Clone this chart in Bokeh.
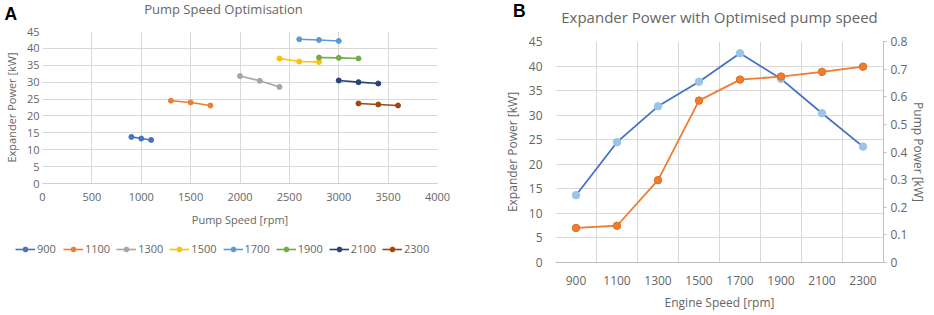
from bokeh.plotting import figure
from bokeh.models import (Range1d, FactorRange, LinearAxis, SingleIntervalTicker,
                          FixedTicker, Label, Legend, LegendItem, CustomJSTickFormatter)
from bokeh.layouts import row, column
from bokeh.embed import file_html
from bokeh.resources import INLINE

# ---------------- data: panel A (pump speed optimisation) ----------------
series_names = ["900", "1100", "1300", "1500", "1700", "1900", "2100", "2300"]
pump_900 = [900, 1000, 1100]
power_900 = [13.8, 13.3, 12.9]
pump_1100 = [1300, 1500, 1700]
power_1100 = [24.5, 24.0, 23.1]
pump_1300 = [2000, 2200, 2400]
power_1300 = [31.8, 30.4, 28.6]
pump_1500 = [2400, 2600, 2800]
power_1500 = [37.0, 36.1, 36.0]
pump_1700 = [2600, 2800, 3000]
power_1700 = [42.7, 42.5, 42.2]
pump_1900 = [2800, 3000, 3200]
power_1900 = [37.3, 37.2, 37.0]
pump_2100 = [3000, 3200, 3400]
power_2100 = [30.5, 30.0, 29.6]
pump_2300 = [3200, 3400, 3600]
power_2300 = [23.7, 23.4, 23.1]

# ---------------- data: panel B ----------------
engine_speeds = ["900", "1100", "1300", "1500", "1700", "1900", "2100", "2300"]
expander_power = [13.7, 24.5, 31.8, 36.8, 42.6, 37.4, 30.4, 23.6]
pump_power = [0.125, 0.133, 0.298, 0.586, 0.662, 0.673, 0.690, 0.709]

series_x = [pump_900, pump_1100, pump_1300, pump_1500, pump_1700, pump_1900, pump_2100, pump_2300]
series_y = [power_900, power_1100, power_1300, power_1500, power_1700, power_1900, power_2100, power_2300]
series_colors = ["#4472C4", "#ED7D31", "#A5A5A5", "#FFC000", "#5B9BD5", "#70AD47", "#264478", "#9E480E"]

FONT = "Open Sans"
TXT = "#666666"
GRID = "#D9D9D9"
AXIS = "#BFBFBF"


def style_axis(ax, size):
    ax.major_label_text_font = FONT
    ax.major_label_text_font_size = size
    ax.major_label_text_color = TXT
    ax.axis_label_text_font = FONT
    ax.axis_label_text_font_size = size
    ax.axis_label_text_color = TXT
    ax.axis_label_text_font_style = "normal"
    ax.major_tick_line_color = None
    ax.minor_tick_line_color = None
    ax.major_tick_out = 0
    ax.major_tick_in = 0


def bare(fig):
    fig.outline_line_color = None
    fig.background_fill_color = "white"
    fig.border_fill_color = "white"
    fig.frame_align = False


def strip(w, h):
    f = figure(width=w, height=h, x_range=Range1d(0, 1), y_range=Range1d(0, 1),
               x_axis_type=None, y_axis_type=None, min_border=0,
               output_backend="svg", toolbar_location=None, title=None)
    bare(f)
    return f


# ================= header of panel A =================
headA = strip(470, 23)
headA.add_layout(Label(x=4, y=9.8, x_units="screen", y_units="screen", text="A",
                       text_font="Liberation Sans", text_font_style="bold",
                       text_font_size="17.5px", text_color="black", text_baseline="alphabetic"))
headA.add_layout(Label(x=223, y=14.8, x_units="screen", y_units="screen",
                       text="Pump Speed Optimisation", text_align="center",
                       text_font=FONT, text_font_size="13px", text_color=TXT,
                       text_baseline="alphabetic"))

# ================= Panel A =================
pa = figure(width=470, height=211, x_range=Range1d(0, 4000), y_range=Range1d(0, 45),
            output_backend="svg", toolbar_location=None, title=None,
            min_border_left=42, min_border_right=33, min_border_top=8, min_border_bottom=51)
bare(pa)
pa.xaxis.ticker = SingleIntervalTicker(interval=500, num_minor_ticks=0)
pa.yaxis.ticker = SingleIntervalTicker(interval=5, num_minor_ticks=0)
for ax in (pa.xaxis[0], pa.yaxis[0]):
    style_axis(ax, "11px")
pa.xaxis.axis_label = "Pump Speed [rpm]"
pa.yaxis.axis_label = "Expander Power [kW]"
pa.xaxis.major_label_standoff = 9
pa.xaxis.axis_label_standoff = 8
pa.yaxis.major_label_standoff = 3
pa.yaxis.axis_label_standoff = 5
pa.xaxis.axis_line_color = "#CFCFCF"
pa.yaxis.axis_line_color = None
pa.xgrid.grid_line_color = GRID
pa.ygrid.grid_line_color = GRID

for xs, ys, c in zip(series_x, series_y, series_colors):
    pa.line(xs, ys, line_color=c, line_width=1.6)
    pa.scatter(xs, ys, marker="circle", size=5, fill_color=c, line_color=c)

# ================= legend strip under panel A =================
# the same series are drawn here far outside the visible range, only to feed the legend
legfig = strip(470, 80)
items = []
for name, xs, ys, c in zip(series_names, series_x, series_y, series_colors):
    l = legfig.line(xs, ys, line_color=c, line_width=1.6)
    s = legfig.scatter(xs, ys, marker="circle", size=4.5, fill_color=c, line_color=c)
    items.append(LegendItem(label=name, renderers=[l, s]))
leg = Legend(items=items, orientation="horizontal", location=(15, 58),
             glyph_width=20, glyph_height=12, label_height=12, label_standoff=2,
             spacing=6, padding=0, margin=0, border_line_color=None,
             background_fill_alpha=0, label_text_font=FONT,
             label_text_font_size="11px", label_text_color=TXT)
legfig.add_layout(leg, "center")

# ================= header of panel B =================
headB = strip(463, 30)
headB.add_layout(Label(x=42.5, y=19.2, x_units="screen", y_units="screen", text="B",
                       text_font="Liberation Sans", text_font_style="bold",
                       text_font_size="17.5px", text_color="black", text_baseline="alphabetic"))
headB.add_layout(Label(x=249, y=13.6, x_units="screen", y_units="screen",
                       text="Expander Power with Optimised pump speed", text_align="center",
                       text_font=FONT, text_font_size="15px", text_color=TXT,
                       text_baseline="alphabetic"))

# ================= Panel B =================
pb = figure(width=463, height=284, x_range=FactorRange(factors=engine_speeds),
            y_range=Range1d(0, 45), output_backend="svg", toolbar_location=None, title=None,
            min_border_left=85, min_border_right=50, min_border_top=11, min_border_bottom=52)
bare(pb)
pb.extra_y_ranges = {"pump": Range1d(0, 0.8)}
pb.yaxis.ticker = SingleIntervalTicker(interval=5, num_minor_ticks=0)
style_axis(pb.xaxis[0], "12px")
style_axis(pb.yaxis[0], "12px")
pb.xaxis.axis_label = "Engine Speed [rpm]"
pb.yaxis.axis_label = "Expander Power [kW]"
pb.xaxis.major_label_standoff = 13
pb.xaxis.axis_label_standoff = 6
pb.yaxis.major_label_standoff = 13
pb.yaxis.axis_label_standoff = 5
pb.xaxis.axis_line_color = AXIS
pb.yaxis.axis_line_color = None
pb.xgrid.ticker = FixedTicker(ticks=list(range(0, len(engine_speeds) + 1)))
pb.xgrid.grid_line_color = GRID
pb.ygrid.grid_line_color = GRID

ry = LinearAxis(y_range_name="pump", ticker=SingleIntervalTicker(interval=0.1, num_minor_ticks=0),
                formatter=CustomJSTickFormatter(code="return Math.abs(tick) < 1e-9 ? '0' : tick.toFixed(1);"),
                axis_label="Pump Power [kW]")
style_axis(ry, "12px")
ry.major_tick_line_color = AXIS
ry.major_tick_out = 3
ry.major_label_standoff = 4
ry.axis_label_standoff = 0
ry.axis_line_color = AXIS
pb.add_layout(ry, "right")

pb.line(engine_speeds, expander_power, line_color="#4472C4", line_width=1.8)
pb.scatter(engine_speeds, expander_power, marker="circle", size=7.5,
           fill_color="#9DC3E6", line_color="#9DC3E6")
pb.line(engine_speeds, pump_power, y_range_name="pump", line_color="#ED7D31", line_width=1.8)
pb.scatter(engine_speeds, pump_power, y_range_name="pump", marker="circle", size=7.5,
           fill_color="#ED7D31", line_color="#E0701F")

layout = row(column(headA, pa, legfig), column(headB, pb))
open("out.html", "w").write(file_html(layout, INLINE))
